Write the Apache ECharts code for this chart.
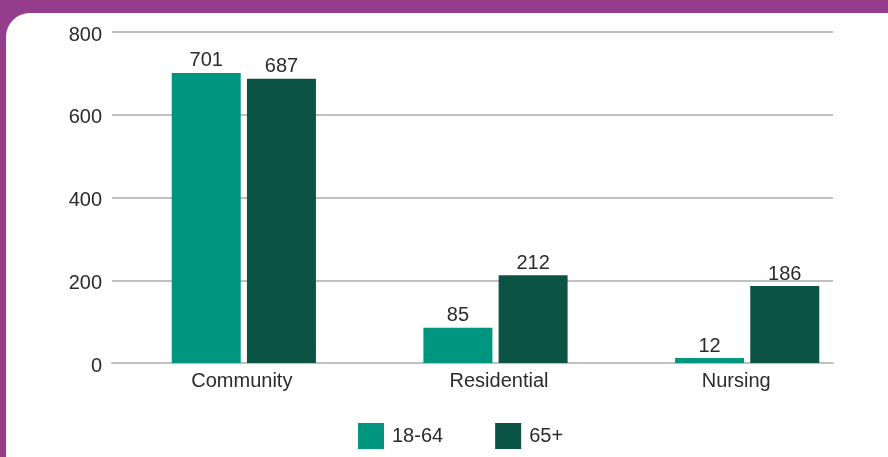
<!DOCTYPE html>
<html><head><meta charset="utf-8">
<script src="https://cdn.jsdelivr.net/npm/echarts@6/dist/echarts.min.js"></script>
<style>
html,body{margin:0;padding:0;background:#943D8D;width:888px;height:457px;overflow:hidden;}
#bg{position:absolute;left:6px;top:13px;width:920px;height:480px;background:#fff;border-radius:24px;}
#c{position:absolute;left:0;top:0;width:888px;height:457px;}
</style></head>
<body><div id="bg"></div><div id="c"></div>
<script>
const categories = ['Community','Residential','Nursing'];
const seriesNames = ['18-64','65+'];
const age1864 = [701, 85, 12];
const age65plus = [687, 212, 186];
const yTicks = [0, 200, 400, 600, 800];
const colors = ['#00957E','#0B5345'];

const chart = echarts.init(document.getElementById('c'), null, {renderer:'canvas'});
const font = 'Liberation Sans, Arial, sans-serif';
const txt = '#2b2b2b';
const lbl = {show:true, position:'top', distance:2, color:txt, fontSize:20, fontFamily:font};
const labelShift = {Community:[0,4,0,0], Residential:[0,0,0,7], Nursing:[0,22,0,0]};
chart.setOption({
  backgroundColor:'transparent',
  animation:false,
  grid:[
    {left:112, right:55, top:32, bottom:94, containLabel:false},
    {left:118, right:15, top:32, bottom:94, containLabel:false}
  ],
  legend:{
    bottom:3, left:353, itemWidth:26, itemHeight:26, itemGap:52,
    icon:'rect',
    textStyle:{fontSize:20, color:txt, fontFamily:font, padding:[0,0,0,3]},
    data:seriesNames
  },
  xAxis:[
    {
      gridIndex:0, type:'category', data:categories,
      axisLine:{lineStyle:{color:'#c0c0c0', width:2}},
      axisTick:{show:false}, axisLabel:{show:false}
    },
    {
      gridIndex:1, type:'category', data:categories,
      axisLine:{show:false}, axisTick:{show:false},
      axisLabel:{
        interval:0, hideOverlap:false,
        color:txt, fontSize:20, fontFamily:font, margin:8,
        formatter:function(v){ return '{' + v + '|' + v + '}'; },
        rich:{
          Community:{fontSize:20, fontFamily:font, color:txt, padding:labelShift.Community},
          Residential:{fontSize:20, fontFamily:font, color:txt, padding:labelShift.Residential},
          Nursing:{fontSize:20, fontFamily:font, color:txt, padding:labelShift.Nursing}
        }
      }
    }
  ],
  yAxis:[
    {
      gridIndex:0, type:'value', min:yTicks[0], max:yTicks[yTicks.length-1], interval:200,
      axisLine:{show:false}, axisTick:{show:false},
      splitLine:{lineStyle:{color:'#c0c0c0', width:2}},
      axisLabel:{
        color:txt, fontSize:20, fontFamily:font, margin:10,
        formatter:function(v){ return '{t|' + v + '}'; },
        rich:{t:{fontSize:20, fontFamily:font, color:txt, padding:[6,0,0,0]}}
      }
    },
    {
      gridIndex:1, type:'value', min:yTicks[0], max:yTicks[yTicks.length-1], interval:200,
      show:false, splitLine:{show:false}
    }
  ],
  series:[
    {name:seriesNames[0], type:'bar', xAxisIndex:1, yAxisIndex:1, data:age1864, barWidth:69, barGap:'9%', itemStyle:{color:colors[0]}, label:lbl},
    {name:seriesNames[1], type:'bar', xAxisIndex:1, yAxisIndex:1, data:age65plus, barWidth:69, barGap:'9%', itemStyle:{color:colors[1]}, label:lbl}
  ]
});
</script></body></html>
